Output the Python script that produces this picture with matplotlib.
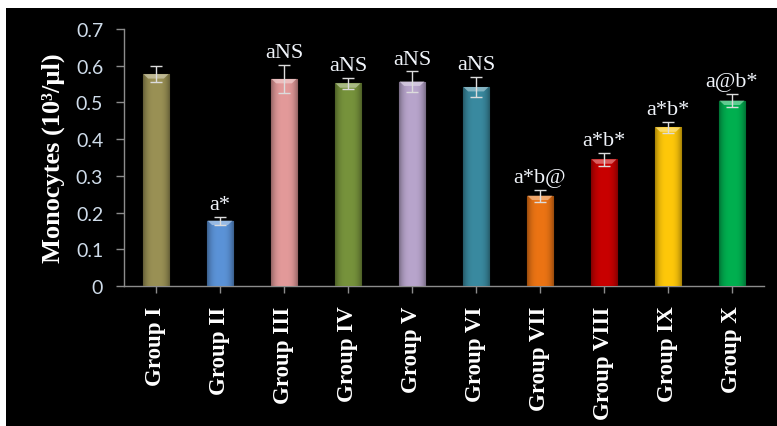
import numpy as np
import matplotlib
matplotlib.use('Agg')
import matplotlib.pyplot as plt
from matplotlib.patches import Rectangle, Polygon
from matplotlib.colors import to_rgb

# Monocyte counts per group (mean ± SE)
groups = ["Group I", "Group II", "Group III", "Group IV", "Group V",
          "Group VI", "Group VII", "Group VIII", "Group IX", "Group X"]
means = [0.577, 0.178, 0.564, 0.552, 0.557, 0.542, 0.246, 0.345, 0.432, 0.505]
errors = [0.022, 0.011, 0.038, 0.015, 0.028, 0.028, 0.016, 0.017, 0.016, 0.018]
labels = ["", "a*", "aNS", "aNS", "aNS", "aNS", "a*b@", "a*b*", "a*b*", "a@b*"]
colors = ["#9a9155", "#5b93d8", "#e39a9a", "#77933c", "#b8a5cc",
          "#3a8aa0", "#ec7414", "#c90000", "#ffc80a", "#00b050"]

W, H = 777, 427
fig = plt.figure(figsize=(W / 100, H / 100), dpi=100, facecolor="white")

# black panel behind the chart
fig.patches.append(Rectangle((6 / W, 0), 1 - 6 / W, 1 - 9 / H,
                             transform=fig.transFigure, facecolor="black",
                             edgecolor="none", zorder=-5))

ax = fig.add_axes([124 / W, (H - 287) / H, (764 - 124) / W, (287 - 30) / H])
ax.patch.set_alpha(0)

x = np.arange(len(groups))
bw = 0.41
bars = ax.bar(x, means, width=bw, color=colors, zorder=2)

# cylinder-like shading: darker at the sides, base colour in the middle
xs = np.linspace(-1, 1, 64)
shade = 1 - 0.35 * np.abs(xs) ** 3
cap_h = 0.012
for b, c in zip(bars, colors):
    rgb = np.array(to_rgb(c))
    grad = np.clip(shade[None, :, None] * rgb[None, None, :], 0, 1)
    x0, y0 = b.get_x(), b.get_y()
    x1, top = x0 + b.get_width(), y0 + b.get_height()
    im = ax.imshow(grad, extent=[x0, x1, y0, top],
                   aspect="auto", zorder=3, interpolation="bilinear")
    im.set_clip_path(b)
    b.set_edgecolor(tuple(rgb * 0.7))
    b.set_linewidth(0.8)
    # bevelled lighter cap at the top of the bar
    hl = np.clip(rgb * 0.5 + 0.5, 0, 1)
    ax.add_patch(Polygon([(x0 + 0.01, top), (x1 - 0.01, top),
                          (x1 - bw * 0.2, top - cap_h), (x0 + bw * 0.2, top - cap_h)],
                         closed=True, facecolor=tuple(hl), edgecolor="none",
                         zorder=4, alpha=0.75))

ax.errorbar(x, means, yerr=errors, fmt="none", ecolor="#dcdcdc", elinewidth=1,
            capsize=4, capthick=1, zorder=5)

for xi, m, e, t in zip(x, means, errors, labels):
    if t:
        ax.annotate(t, (xi, m + e), xytext=(0, 5.5), textcoords="offset points",
                    ha="center", va="baseline", color="#f0f4fa", fontsize=16,
                    family="Liberation Serif")

ax.set_xlim(-0.5, len(groups) - 0.5)
ax.set_ylim(0, 0.7)
ax.set_yticks(np.arange(0, 0.71, 0.1))
ax.set_yticklabels(["0", "0.1", "0.2", "0.3", "0.4", "0.5", "0.6", "0.7"],
                   family="Lato", fontsize=14, color="#cfdcea")
ax.set_xticks(x)
ax.set_xticklabels(groups, rotation=90, family="Liberation Serif",
                   fontweight="bold", fontsize=16.5, color="white")
ax.tick_params(axis="y", length=6, width=1, color="#8c8c8c", pad=9)
ax.tick_params(axis="x", length=5, width=1, color="#8c8c8c", pad=9)

for s in ["top", "right"]:
    ax.spines[s].set_visible(False)
for s in ["left", "bottom"]:
    ax.spines[s].set_color("#8c8c8c")
    ax.spines[s].set_linewidth(1)

ax.set_ylabel("Monocytes (10³/µl)", family="Liberation Serif", fontweight="bold",
              fontsize=19, color="white", labelpad=8)

fig.savefig("out.png", dpi=100, facecolor=fig.get_facecolor())
